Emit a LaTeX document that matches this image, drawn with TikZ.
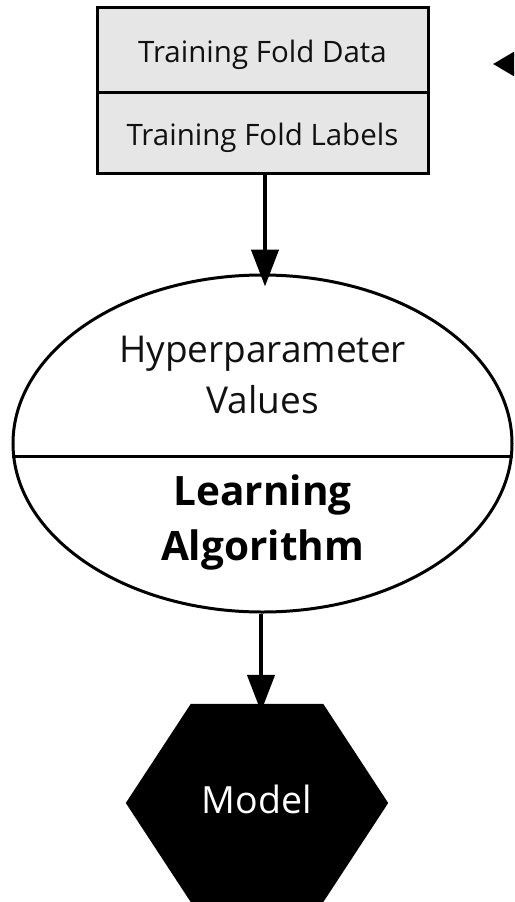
\documentclass[tikz,border=0pt]{standalone}
\usepackage{fontspec}
\setmainfont{Open Sans}
\usetikzlibrary{shapes.geometric,arrows.meta,calc}
\definecolor{boxgray}{HTML}{E6E6E6}
\definecolor{inkc}{HTML}{111111}
\tikzset{
  rowbox/.style={draw=black, line width=3pt, fill=boxgray, minimum width=331pt, inner sep=0pt},
  boxtext/.style={font=\fontsize{29.5}{32}\selectfont, text=inkc, anchor=base},
  conn/.style={line width=4.5pt, -{Triangle[length=37pt,width=27pt]}},
  ellbox/.style={draw=black, line width=3pt, ellipse, minimum width=499pt, minimum height=337pt, inner sep=0pt},
}
\begin{document}
\begin{tikzpicture}[x=1pt,y=-1pt]
\useasboundingbox (0,0) rectangle (514,902);
\clip (0,0) rectangle (514,902);
% top box
\node[rowbox, minimum height=85pt] (data) at (262.5,49.5) {};
\node[rowbox, minimum height=81pt] (labels) at (262.5,132.5) {};
\node[boxtext] (datat) at (262.5,62) {Training Fold Data};
\node[boxtext] (labelst) at (262.5,145) {Training Fold Labels};
% ellipse
\node[ellbox] (ell) at (262.5,443.5) {};
\draw[line width=3.5pt] (ell.183.1) -- (ell.-3.1);
\node[font=\fontsize{37}{51}\selectfont, text=inkc, align=center, anchor=base] (hyper) at (262.5,413) {Hyperparameter\\Values};
\node[font=\fontsize{40.5}{55}\selectfont\bfseries, align=center, anchor=base] (learn) at (262.5,560) {Learning\\Algorithm};
% model hexagon
\node[minimum width=132pt, minimum height=198pt, inner sep=0pt] (model) at (257,803) {};
\fill[black] (model.north west) -- (model.north east) -- ($(model.east)+(65,0)$) -- (model.south east) -- (model.south west) -- ($(model.west)+(-65,0)$) -- cycle;
\node[text=white, font=\fontsize{37.5}{40}\selectfont, anchor=base] (mtext) at (257,813) {Model};
% connectors
\draw[conn] ([xshift=2.5pt]labels.south) -- ([xshift=2.5pt,yshift=-13pt]ell.north);
\draw[conn] ([xshift=-1.5pt]ell.south) -- ([xshift=4pt,yshift=-8pt]model.north);
\coordinate (offR) at (580,64);
\coordinate (tipR) at (493,64);
\draw[line width=4.5pt, -{Triangle[length=30pt,width=34pt]}] (offR) -- (tipR);
\end{tikzpicture}
\end{document}
